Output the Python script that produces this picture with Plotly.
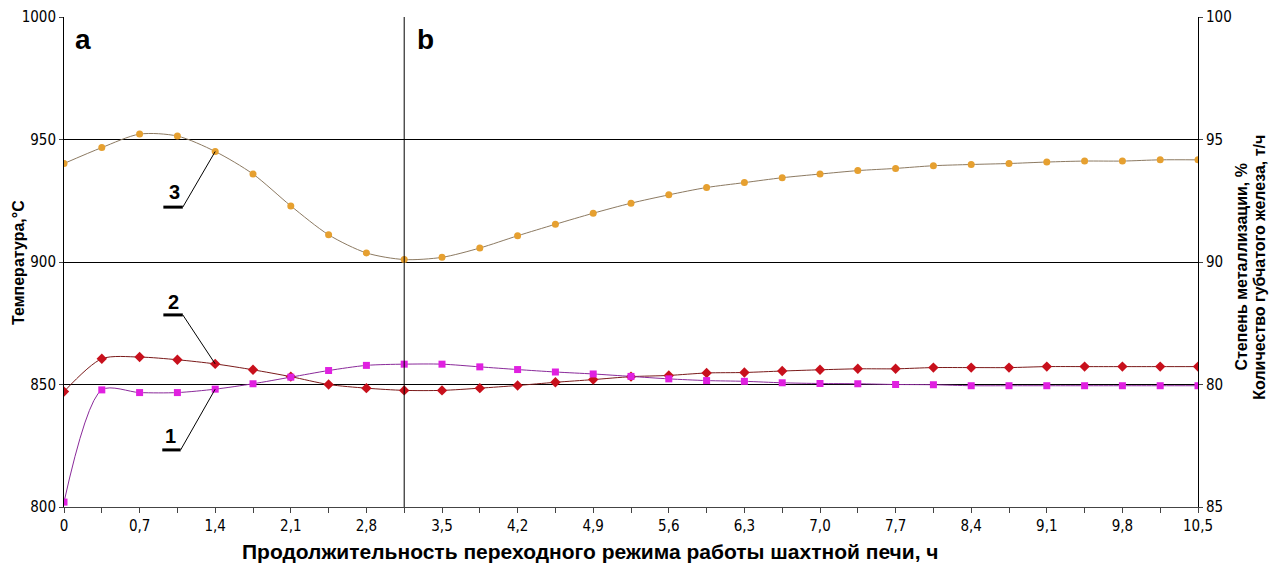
import plotly.graph_objects as go

# Time, h
time_h = [0.0, 0.35, 0.7, 1.05, 1.4, 1.75, 2.1, 2.45, 2.8, 3.15, 3.5, 3.85, 4.2, 4.55, 4.9,
          5.25, 5.6, 5.95, 6.3, 6.65, 7.0, 7.35, 7.7, 8.05, 8.4, 8.75, 9.1, 9.45, 9.8, 10.15, 10.5]

# Curve 1 (magenta squares)
curve1 = [802.0, 847.8, 846.7, 846.7, 848.1, 850.3, 853.0, 855.7, 857.8, 858.3, 858.3, 857.2,
          856.1, 855.1, 854.3, 853.3, 852.3, 851.6, 851.3, 850.7, 850.4, 850.3, 850.0, 849.9,
          849.5, 849.5, 849.5, 849.5, 849.5, 849.5, 849.5]

# Curve 2 (red diamonds)
curve2 = [847.1, 860.5, 861.2, 860.1, 858.4, 856.0, 853.2, 850.0, 848.5, 847.6, 847.6, 848.5,
          849.6, 850.9, 852.0, 853.2, 853.7, 854.7, 854.9, 855.5, 856.0, 856.4, 856.4, 856.9,
          856.9, 856.9, 857.3, 857.3, 857.3, 857.3, 857.3]

# Curve 3 (orange circles)
curve3 = [940.2, 946.7, 952.2, 951.4, 945.1, 935.9, 922.9, 911.1, 903.7, 901.0, 901.9, 905.7,
          910.7, 915.4, 919.9, 924.0, 927.4, 930.4, 932.4, 934.4, 935.9, 937.3, 938.2, 939.3,
          939.8, 940.2, 940.8, 941.2, 941.2, 941.7, 941.7]

x_tickvals = [0.0, 0.7, 1.4, 2.1, 2.8, 3.5, 4.2, 4.9, 5.6, 6.3, 7.0, 7.7, 8.4, 9.1, 9.8, 10.5]
x_ticktext = ["0", "0,7", "1,4", "2,1", "2,8", "3,5", "4,2", "4,9", "5,6", "6,3", "7,0",
              "7,7", "8,4", "9,1", "9,8", "10,5"]
y_tickvals = [800, 850, 900, 950, 1000]
y_ticktext = ["800", "850", "900", "950", "1000"]
y2_ticktext = ["85", "80", "90", "95", "100"]

divider_x = 3.15

x_title = "Продолжительность переходного режима работы шахтной печи, ч"
y_title = "Температура,°C"
y2_title_1 = "Степень металлизации, %"
y2_title_2 = "Количество губчатого железа, т/ч"

NARROW = "DejaVu Sans Condensed, Liberation Sans Narrow, Arial Narrow, sans-serif"
BOLD = "Liberation Sans, Arial, sans-serif"

fig = go.Figure()

fig.add_trace(go.Scatter(
    x=time_h, y=curve3, mode="lines+markers", name="3",
    line=dict(color="#8C7A62", width=1, shape="spline", smoothing=0.8),
    marker=dict(symbol="circle", size=7, color="#E6A030"),
))
fig.add_trace(go.Scatter(
    x=time_h, y=curve2, mode="lines+markers", name="2",
    line=dict(color="#7A1A1A", width=1, shape="spline", smoothing=0.8),
    marker=dict(symbol="diamond", size=8, color="#C8101C"),
))
fig.add_trace(go.Scatter(
    x=time_h, y=curve1, mode="lines+markers", name="1",
    line=dict(color="#8A2A9A", width=1, shape="spline", smoothing=0.8),
    marker=dict(symbol="square", size=7, color="#E020E0"),
))
# invisible trace to activate right axis
fig.add_trace(go.Scatter(x=[time_h[0]], y=[800], yaxis="y2", mode="markers",
                         marker=dict(opacity=0), showlegend=False, hoverinfo="skip"))

# vertical divider
fig.add_shape(type="line", x0=divider_x, x1=divider_x, y0=800, y1=1000,
              xref="x", yref="y", line=dict(color="black", width=1))

# labels a / b
fig.add_annotation(x=0.08, y=998, xref="x", yref="y", text="<b>a</b>", showarrow=False,
                   xanchor="left", yanchor="top", font=dict(family=BOLD, size=28, color="black"))
fig.add_annotation(x=3.25, y=998, xref="x", yref="y", text="<b>b</b>", showarrow=False,
                   xanchor="left", yanchor="top", font=dict(family=BOLD, size=28, color="black"))

# curve labels with underline and leader lines
labels = [
    # text, text x, text y, underline x0, x1, y, target index, target series
    ("3", 1.02, 928.5, 0.92, 1.10, 922.4, 4, curve3),
    ("2", 1.01, 883.5, 0.92, 1.10, 878.4, 4, curve2),
    ("1", 0.99, 829.0, 0.91, 1.08, 823.3, 4, curve1),
]
for txt, tx, ty, ux0, ux1, uy, idx, series in labels:
    fig.add_annotation(x=tx, y=ty, xref="x", yref="y", text="<b>" + txt + "</b>",
                       showarrow=False, font=dict(family=BOLD, size=20, color="black"))
    fig.add_shape(type="line", x0=ux0, x1=ux1, y0=uy, y1=uy, xref="x", yref="y",
                  line=dict(color="black", width=3))
    fig.add_shape(type="line", x0=ux1, x1=time_h[idx], y0=uy, y1=series[idx],
                  xref="x", yref="y", line=dict(color="black", width=1))

# axis titles as annotations (exact placement)
fig.add_annotation(x=-0.0406, y=0.5, xref="paper", yref="paper", text="<b>" + y_title + "</b>",
                   xanchor="center", yanchor="middle",
                   textangle=-90, showarrow=False, font=dict(family=BOLD, size=16, color="black"))
fig.add_annotation(x=1.0385, y=0.49, xref="paper", yref="paper", text="<b>" + y2_title_1 + "</b>",
                   xanchor="center", yanchor="middle",
                   textangle=-90, showarrow=False, font=dict(family=BOLD, size=16, color="black"))
fig.add_annotation(x=1.0545, y=0.49, xref="paper", yref="paper", text="<b>" + y2_title_2 + "</b>",
                   xanchor="center", yanchor="middle",
                   textangle=-90, showarrow=False, font=dict(family=BOLD, size=16, color="black"))
fig.add_annotation(x=0.464, y=-0.09, xref="paper", yref="paper", text="<b>" + x_title + "</b>",
                   xanchor="center", yanchor="middle",
                   showarrow=False, font=dict(family=BOLD, size=21, color="black"))

# page body has an 8px margin: size the figure so the plot area lands on the reference
fig.update_layout(
    width=1269, height=561,
    margin=dict(l=56, r=79, t=9, b=62),
    paper_bgcolor="white", plot_bgcolor="white",
    showlegend=False,
    font=dict(family=NARROW, size=15, color="black"),
    xaxis=dict(
        range=[0, 10.5], automargin=False,
        tickvals=x_tickvals, ticktext=x_ticktext,
        ticks="outside", ticklen=5, tickcolor="#444",
        minor=dict(dtick=0.35, ticks="outside", ticklen=5, tickcolor="#444", tick0=0),
        showgrid=False, zeroline=False,
        showline=True, linecolor="#444", linewidth=1,
        tickfont=dict(family=NARROW, size=15),
    ),
    yaxis=dict(
        range=[800, 1000], automargin=False,
        tickvals=y_tickvals, ticktext=y_ticktext,
        ticks="outside", ticklen=4, tickcolor="#444",
        showgrid=True, gridcolor="black", gridwidth=1,
        zeroline=False, showline=True, linecolor="black", linewidth=1,
        tickfont=dict(family=NARROW, size=15),
    ),
    yaxis2=dict(
        range=[800, 1000], overlaying="y", side="right", automargin=False,
        tickvals=y_tickvals, ticktext=y2_ticktext,
        ticks="outside", ticklen=4, tickcolor="#444",
        showgrid=False, zeroline=False, showline=True, linecolor="black", linewidth=1,
        tickfont=dict(family=NARROW, size=15),
    ),
)

fig.write_html("out.html")
